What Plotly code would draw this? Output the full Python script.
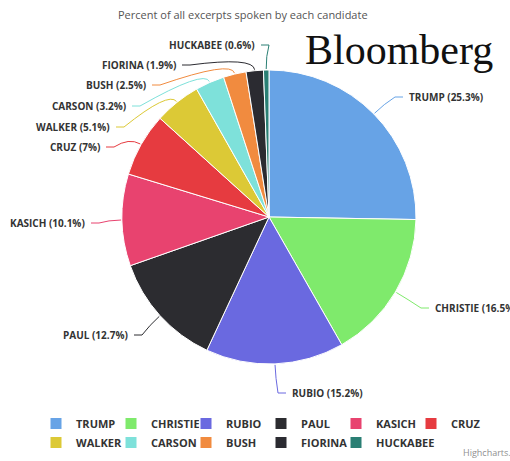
import math
import plotly.graph_objects as go

# ---- data ----
candidates = ["TRUMP", "CHRISTIE", "RUBIO", "PAUL", "KASICH", "CRUZ",
              "WALKER", "CARSON", "BUSH", "FIORINA", "HUCKABEE"]
shares = [25.3, 16.5, 15.2, 12.7, 10.1, 7, 5.1, 3.2, 2.5, 1.9, 0.6]
colors = ["#67a3e6", "#7fea6c", "#6a69e0", "#2c2c30", "#e8436f", "#e63b40",
          "#dcc936", "#7ee1da", "#f18b3f", "#2b2b31", "#2a7f74"]

subtitle = "Percent of all excerpts spoken by each candidate"

# ---- layout constants (pixels) ----
W, H = 510, 461
CX, CY, R = 269, 217, 147
# label anchor positions (pixel) and side
label_pos = [
    (407, 97, "L"), (433, 308, "L"), (290, 393, "L"), (130, 335, "R"),
    (87, 223, "R"), (102, 147, "R"), (112, 127, "R"), (128, 106, "R"),
    (148, 85, "R"), (178, 65, "R"), (257, 45, "R"),
]
LABEL_FONT = dict(family="Open Sans", size=10, color="#333333", weight="bold")


def px(x):
    return x / W


def py(y):
    return 1 - y / H


fig = go.Figure(go.Pie(
    labels=candidates, values=shares, sort=False, direction="clockwise",
    rotation=0, textinfo="none", hoverinfo="label+percent",
    marker=dict(colors=colors, line=dict(color="white", width=1)),
    domain=dict(x=[px(CX - R), px(CX + R)], y=[py(CY + R), py(CY - R)]),
))

total = sum(shares)
cum = 0.0
shapes = []
annotations = []
for name, v, col, (lx, ly, side) in zip(candidates, shares, colors, label_pos):
    mid = (cum + v / 2) / total * 2 * math.pi
    cum += v
    dx, dy = math.sin(mid), -math.cos(mid)
    ex, ey = CX + (R + 1) * dx, CY + (R + 1) * dy
    cx_, cy_ = CX + (R + 14) * dx, CY + (R + 14) * dy
    if side == "L":
        sx, bx = lx - 4, lx - 12
        xanchor = "left"
    else:
        sx, bx = lx + 4, lx + 12
        xanchor = "right"
    path = (f"M {px(sx)},{py(ly)} L {px(bx)},{py(ly)} "
            f"Q {px(cx_)},{py(cy_)} {px(ex)},{py(ey)}")
    shapes.append(dict(type="path", path=path, xref="paper", yref="paper",
                       line=dict(color=col, width=1)))
    annotations.append(dict(
        text=f"{name} ({v:g}%)", x=px(lx), y=py(ly), xref="paper", yref="paper",
        xanchor=xanchor, yanchor="middle", showarrow=False, font=LABEL_FONT))

annotations.append(dict(
    text=subtitle, x=px(243), y=py(14), xref="paper", yref="paper",
    xanchor="center", yanchor="middle", showarrow=False,
    font=dict(family="Open Sans", size=11, color="#555555")))
annotations.append(dict(
    text="Bloomberg", x=px(399), y=py(50), xref="paper", yref="paper",
    xanchor="center", yanchor="middle", showarrow=False,
    font=dict(family="Liberation Serif", size=42, color="#111111")))
annotations.append(dict(
    text="Highcharts.com", x=px(461), y=py(452), xref="paper", yref="paper",
    xanchor="left", yanchor="middle", showarrow=False,
    font=dict(family="Open Sans", size=9, color="#909090")))

fig.update_layout(
    width=W, height=H,
    margin=dict(l=0, r=0, t=0, b=0, autoexpand=False),
    paper_bgcolor="white", plot_bgcolor="white",
    shapes=shapes, annotations=annotations,
    showlegend=True,
    legend=dict(orientation="h", x=px(36), xanchor="left", y=py(409),
                yanchor="top", entrywidth=30, entrywidthmode="pixels",
                font=dict(family="Open Sans", size=11, color="#333333",
                          weight="bold"),
                traceorder="normal", itemclick=False),
)

fig.write_html("out.html",
               config=dict(displayModeBar=False),
               post_script="document.body.style.margin='0';"
                           "document.body.style.overflow='hidden';")
